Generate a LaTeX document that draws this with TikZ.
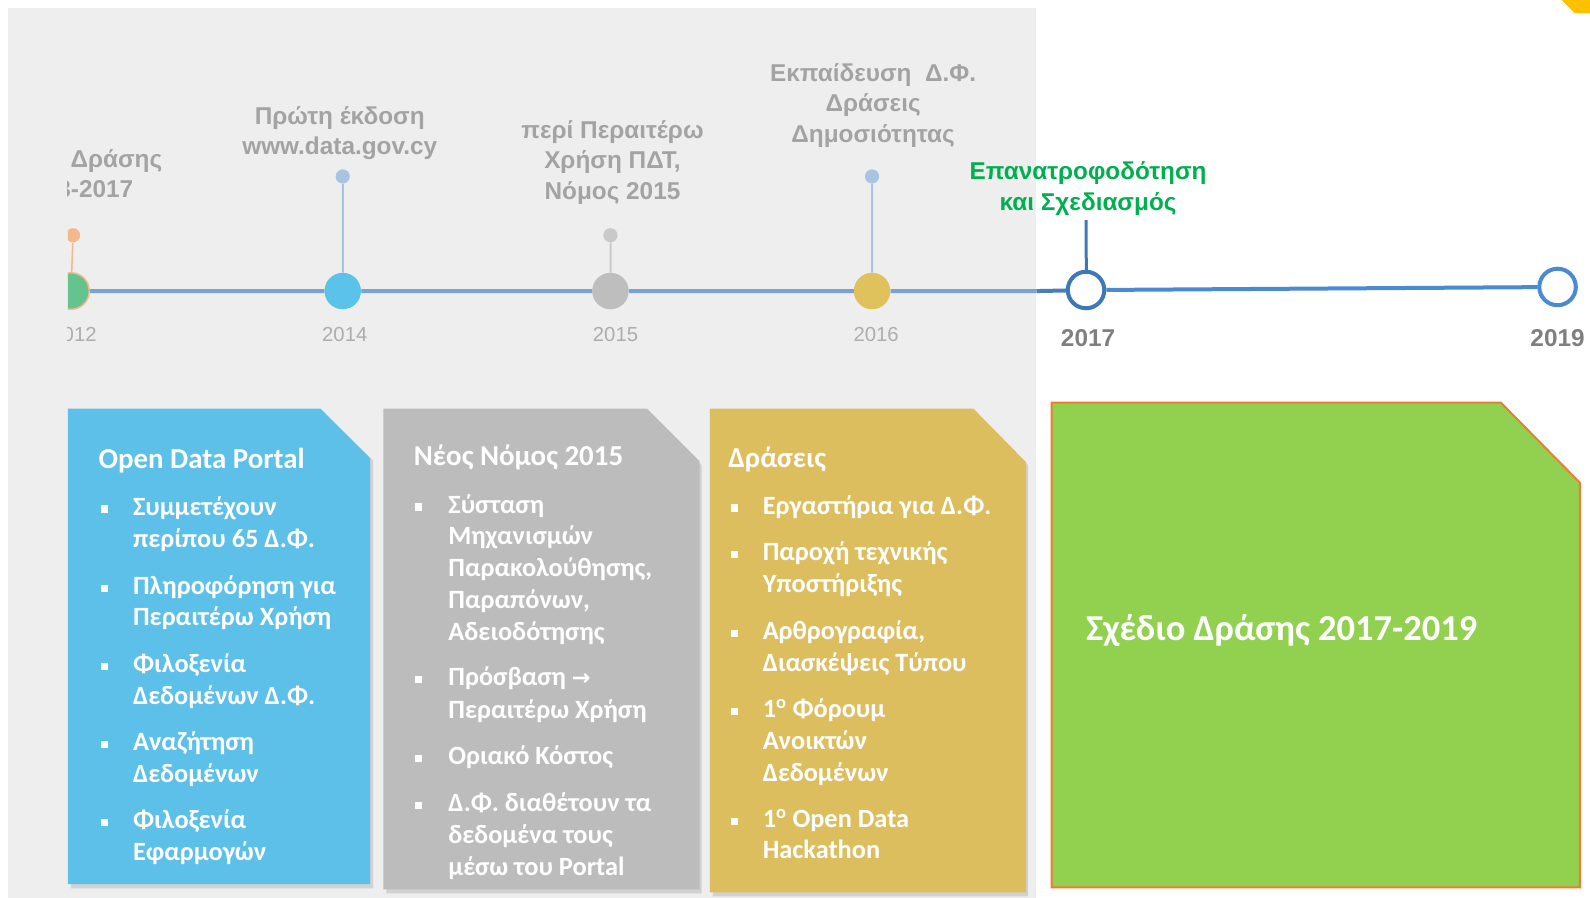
\documentclass[tikz,border=0pt]{standalone}
\usepackage{fontspec}
\setmainfont{Liberation Sans}
\newfontfamily\calfont{Carlito}
\newfontfamily\arrfont{DejaVu Sans}
\definecolor{bgtex}{HTML}{EEEEEE}
\definecolor{tlline}{HTML}{7BA3CF}
\definecolor{tldark}{HTML}{4A7EBB}
\definecolor{tlblue}{HTML}{4A8AD2}
\definecolor{ringblue}{HTML}{3F78B8}
\definecolor{lblgray}{HTML}{A3A3A3}
\definecolor{yrgray}{HTML}{ADADAD}
\definecolor{yrdark}{HTML}{7F7F7F}
\definecolor{grtext}{HTML}{00B050}
\definecolor{boxblue}{HTML}{5CC0E9}
\definecolor{boxgray}{HTML}{BCBCBC}
\definecolor{boxgold}{HTML}{DDBE5E}
\definecolor{boxgreen}{HTML}{92D050}
\definecolor{boxorange}{HTML}{ED7D31}
\definecolor{dotgreen}{HTML}{63C58D}
\definecolor{dotorange}{HTML}{F3B88C}
\definecolor{dotblue}{HTML}{5BC2EA}
\definecolor{dotlblue}{HTML}{A7C5E2}
\definecolor{dotgray}{HTML}{BEBEBE}
\definecolor{dotlgray}{HTML}{C9C9C9}
\definecolor{dotgold}{HTML}{E0C25C}
\definecolor{cornery}{HTML}{FFC000}
\begin{document}
\begin{tikzpicture}[x=1pt,y=-1pt,scale=1.01403,transform shape,
  bigdot/.style={circle, inner sep=0, minimum size=36},
  smalldot/.style={circle, inner sep=0, minimum size=14},
  ring/.style={circle, inner sep=0, minimum size=36, draw=ringblue, line width=4, fill=white},
  tl/.style={font=\bfseries\fontsize{24}{30}\selectfont, text=lblgray, align=center, inner sep=0},
  tlg/.style={font=\bfseries\fontsize{24}{31}\selectfont, text=grtext, align=center, inner sep=0},
  yr/.style={font=\fontsize{20}{24}\selectfont, text=yrgray, inner sep=0},
  yrb/.style={font=\bfseries\fontsize{24}{28}\selectfont, text=yrdark, inner sep=0},
  btitle/.style={font=\calfont\bfseries\fontsize{28.5}{32}\selectfont, text=white, anchor=west, inner sep=0, text height=19, text depth=6},
  bline/.style={font=\calfont\bfseries\fontsize{26}{30}\selectfont, text=white, anchor=west, inner sep=0, text height=18, text depth=6},
  bsq/.style={rectangle, fill=white, inner sep=0, minimum size=7},
  shadow/.style={fill=black, opacity=0.12}
]
\useasboundingbox (0,0) rectangle (1568,885.56);
\fill[white] (0,0) rectangle (1568,885.56);
\fill[bgtex] (8,8) rectangle (1022,888);
\fill[cornery] (1540,0) -- (1568,0) -- (1568,13) -- (1553,13) -- cycle;

% ---------- clipped old timeline ----------
\begin{scope}
\clip (67,0) rectangle (1022,898);
\node[bigdot, fill=dotgreen, draw=dotorange, line width=1.5] (d12) at (70,287) {};
\node[smalldot, fill=dotorange] (s12) at (72,232) {};
\node[bigdot, fill=dotblue] (d14) at (338,287) {};
\node[smalldot, fill=dotlblue] (s14) at (338,174) {};
\node[bigdot, fill=dotgray] (d15) at (602,287) {};
\node[smalldot, fill=dotlgray] (s15) at (602,232) {};
\node[bigdot, fill=dotgold] (d16) at (860,287) {};
\node[smalldot, fill=dotlblue] (s16) at (860,174) {};
\coordinate (fadeend) at (1022,287);
\draw[tlline, line width=4] (d12) -- (d14);
\draw[tlline, line width=4] (d14) -- (d15);
\draw[tlline, line width=4] (d15) -- (d16);
\draw[tlline, line width=4] (d16) -- (fadeend);
\draw[dotorange, line width=1.5] (s12) -- (d12);
\draw[dotlblue, line width=2] (s14) -- (d14);
\draw[dotlgray, line width=2] (s15) -- (d15);
\draw[dotlblue, line width=2] (s16) -- (d16);

\node[tl] (l12) at (74,171) {Σχέδιο Δράσης\\2013-2017};
\node[tl] (l14) at (335,131) {Πρώτη έκδοση\\www.data.gov.cy};
\node[tl] (l15) at (604,160) {περί Περαιτέρω\\Χρήση ΠΔΤ,\\Νόμος 2015};
\node[tl] (l16) at (861,104) {Εκπαίδευση\ \ Δ.Φ.\\Δράσεις\\Δημοσιότητας};

\node[yr] (y12) at (73,330) {2012};
\node[yr] (y14) at (340,330) {2014};
\node[yr] (y15) at (607,330) {2015};
\node[yr] (y16) at (864,330) {2016};
\end{scope}

% ---------- new timeline ----------
\node[ring] (c17) at (1071,286) {};
\node[ring, draw=tlblue] (c19) at (1536,283) {};
\draw[tldark, line width=4] (fadeend) -- (c17);
\draw[tlblue, line width=4] (c17) -- (c19);
\node[tlg] (l17) at (1073,186) {Επανατροφοδότηση\\και Σχεδιασμός};
\draw[ringblue, line width=3] (l17.south -| c17) ++(0,4) coordinate (tk) -- (c17);
\node[yrb] (y17) at (1073,333) {2017};
\node[yrb] (y19) at (1536,333) {2019};

% ---------- boxes ----------
\fill[shadow] (70,407) -- (319,407) -- (368,454) -- (368,876) -- (70,876) -- cycle;
\fill[boxblue] (67,403) -- (316,403) -- (365,452) -- (365,872) -- (67,872) -- cycle;
\fill[shadow] (381,407) -- (640,407) -- (692,459) -- (692,881) -- (381,881) -- cycle;
\fill[boxgray] (378,403) -- (638,403) -- (690,455) -- (690,877) -- (378,877) -- cycle;
\fill[shadow] (703,407) -- (963,407) -- (1014,459) -- (1014,884) -- (703,884) -- cycle;
\fill[boxgold] (700,403) -- (960,403) -- (1012,456) -- (1012,880) -- (700,880) -- cycle;
\filldraw[fill=boxgreen, draw=boxorange, line width=2] (1037,397) -- (1480,397) -- (1558,476) -- (1558,875) -- (1037,875) -- cycle;

% blue box text
\node[btitle] (bt) at (97,456) {Open Data Portal};
\node[bsq] (bq1) at (103,502) {};
\node[bline] (b1a) at (131,502) {Συμμετέχουν};
\node[bline] (b1b) at (131,534) {περίπου 65 Δ.Φ.};
\node[bsq] (bq2) at (103,580) {};
\node[bline] (b2a) at (131,580) {Πληροφόρηση για};
\node[bline] (b2b) at (131,611) {Περαιτέρω Χρήση};
\node[bsq] (bq3) at (103,657) {};
\node[bline] (b3a) at (131,657) {Φιλοξενία};
\node[bline] (b3b) at (131,689) {Δεδομένων Δ.Φ.};
\node[bsq] (bq4) at (103,734) {};
\node[bline] (b4a) at (131,734) {Αναζήτηση};
\node[bline] (b4b) at (131,766) {Δεδομένων};
\node[bsq] (bq5) at (103,811) {};
\node[bline] (b5a) at (131,811) {Φιλοξενία};
\node[bline] (b5b) at (131,843) {Εφαρμογών};

% gray box text
\node[btitle] (gt) at (408,453) {Νέος Νόμος 2015};
\node[bsq] (gq1) at (413,500) {};
\node[bline] (g1a) at (442,500) {Σύσταση};
\node[bline] (g1b) at (442,531) {Μηχανισμών};
\node[bline] (g1c) at (442,563) {Παρακολούθησης,};
\node[bline] (g1d) at (442,594) {Παραπόνων,};
\node[bline] (g1e) at (442,626) {Αδειοδότησης};
\node[bsq] (gq2) at (413,670) {};
\node[bline] (g2a) at (442,670) {Πρόσβαση {\arrfont\fontsize{22}{26}\selectfont →}};
\node[bline] (g2b) at (442,703) {Περαιτέρω Χρήση};
\node[bsq] (gq3) at (413,748) {};
\node[bline] (g3a) at (442,748) {Οριακό Κόστος};
\node[bsq] (gq4) at (413,794) {};
\node[bline] (g4a) at (442,794) {Δ.Φ. διαθέτουν τα};
\node[bline] (g4b) at (442,826) {δεδομένα τους};
\node[bline] (g4c) at (442,857) {μέσω του Portal};

% gold box text
\node[btitle] (yt) at (718,455) {Δράσεις};
\node[bsq] (yq1) at (724,501) {};
\node[bline] (y1a) at (752,501) {Εργαστήρια για Δ.Φ.};
\node[bsq] (yq2) at (724,547) {};
\node[bline] (y2a) at (752,547) {Παροχή τεχνικής};
\node[bline] (y2b) at (752,578) {Υποστήριξης};
\node[bsq] (yq3) at (724,625) {};
\node[bline] (y3a) at (752,625) {Αρθρογραφία,};
\node[bline] (y3b) at (752,656) {Διασκέψεις Τύπου};
\node[bsq] (yq4) at (724,702) {};
\node[bline] (y4a) at (752,702) {1\textsuperscript{ο} Φόρουμ};
\node[bline] (y4b) at (752,733) {Ανοικτών};
\node[bline] (y4c) at (752,765) {Δεδομένων};
\node[bsq] (yq5) at (724,810) {};
\node[bline] (y5a) at (752,810) {1\textsuperscript{ο} Open Data};
\node[bline] (y5b) at (752,841) {Hackathon};

% green box text
\node[font=\calfont\bfseries\fontsize{36}{40}\selectfont, text=white, anchor=west, inner sep=0] (gbt) at (1071,622) {Σχέδιο Δράσης 2017-2019};
\end{tikzpicture}
\end{document}
